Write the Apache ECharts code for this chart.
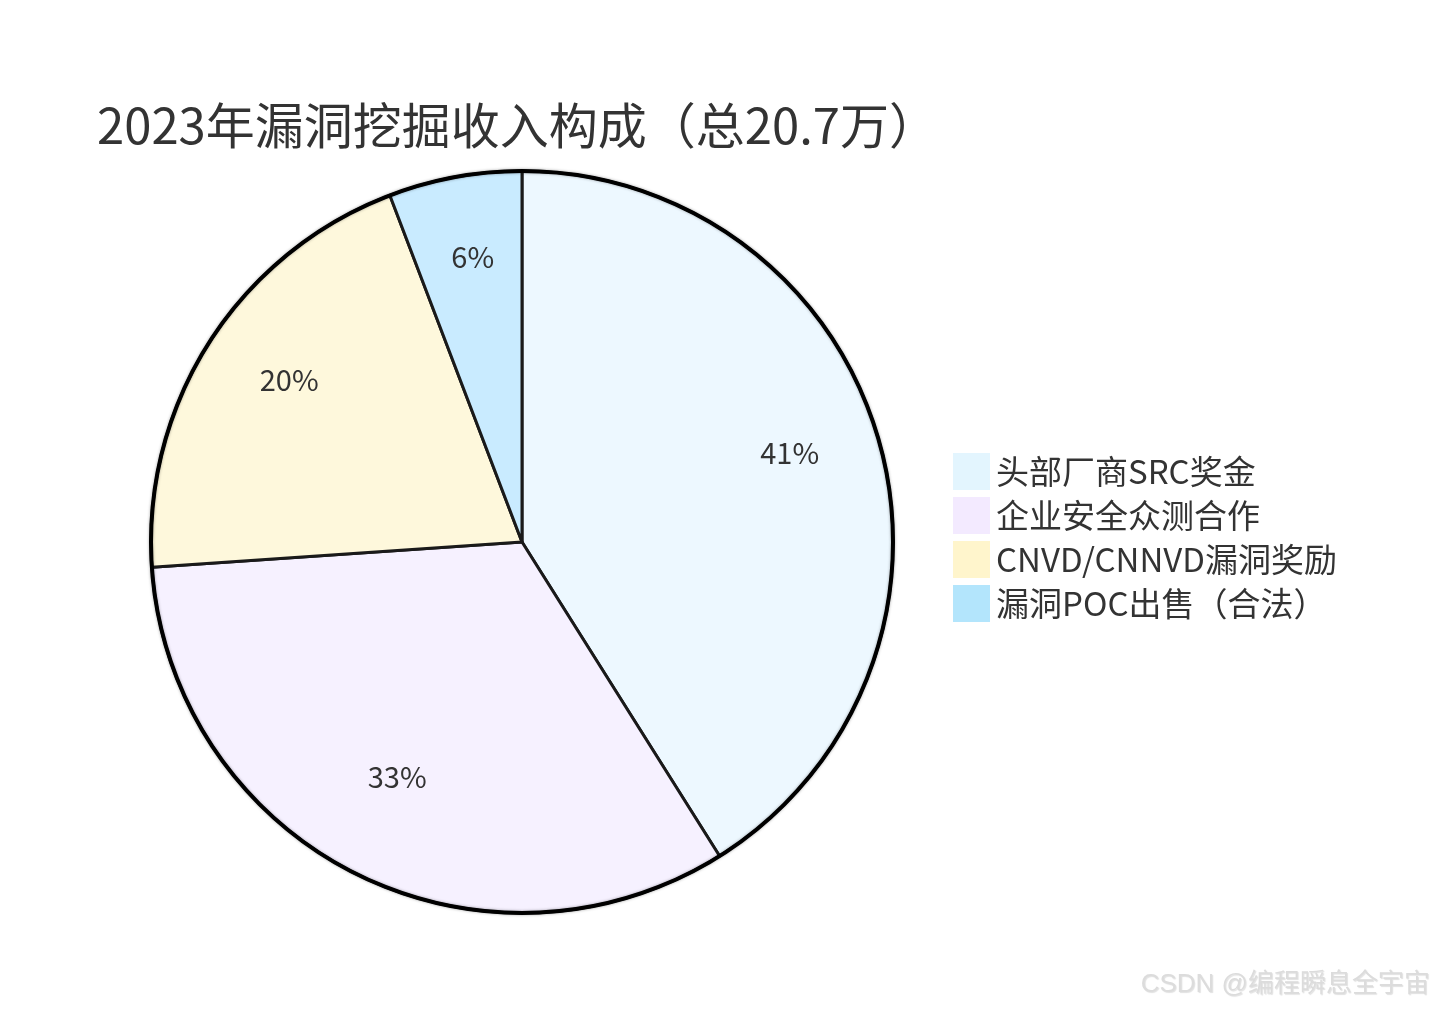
<!DOCTYPE html>
<html><head><meta charset="utf-8">
<script src="https://cdn.jsdelivr.net/npm/echarts@6/dist/echarts.min.js"></script>
<style>html,body{margin:0;padding:0;background:#fff}#c{width:1435px;height:1010px}</style>
</head><body><div id="c"></div>
<script>
const categories = ['头部厂商SRC奖金', '企业安全众测合作', 'CNVD/CNNVD漏洞奖励', '漏洞POC出售（合法）'];
const values = [8.5, 6.8, 4.2, 1.2];
const sliceColors = ['#EDF8FF', '#F6F1FF', '#FEF8DC', '#C9EBFF'];
const legendColors = ['#E3F5FE', '#F3EAFF', '#FFF5CC', '#B3E5FC'];
const titleText = '2023年漏洞挖掘收入构成（总20.7万）';
const watermark = 'CSDN @编程瞬息全宇宙';

const FONT = '"Noto Sans CJK SC", "Noto Sans", sans-serif';
const CX = 522, CY = 542, R = 371;
const data = categories.map((n, i) => ({ name: n, value: values[i], itemStyle: { color: sliceColors[i] } }));

const chart = echarts.init(document.getElementById('c'));
chart.setOption({
  animation: false,
  title: { text: titleText, left: 92, top: 96, textStyle: { fontFamily: FONT, fontSize: 49, fontWeight: 'normal', color: '#333' } },
  legend: {
    orient: 'vertical', left: 953, top: 453, padding: 0, itemWidth: 37, itemHeight: 37, itemGap: 7, icon: 'rect',
    itemStyle: { borderWidth: 0 },
    textStyle: { fontFamily: FONT, fontSize: 33, lineHeight: 37, color: '#333', padding: [0, 0, 0, 1] },
    data: categories.map((n, i) => ({ name: n, itemStyle: { color: legendColors[i], borderWidth: 0 } }))
  },
  graphic: [
    { type: 'circle', shape: { cx: CX, cy: CY, r: R }, z: 100, silent: true,
      style: { fill: 'none', stroke: '#000', lineWidth: 4, shadowBlur: 3, shadowColor: 'rgba(0,0,0,0.35)' } },
    { type: 'text', right: 5, bottom: 12, z: 100, silent: true,
      style: { text: watermark, fontFamily: '"Liberation Sans", "Noto Sans CJK SC", sans-serif', fontSize: 26, fill: '#dcdcdc',
        textShadowColor: 'rgba(0,0,0,0.12)', textShadowBlur: 1, textShadowOffsetX: 1, textShadowOffsetY: 1 } }
  ],
  series: [
    { type: 'pie', center: [CX, CY], radius: [0, R], startAngle: 90, clockwise: true, silent: true,
      label: { show: false }, labelLine: { show: false },
      itemStyle: { borderColor: '#1a1a1a', borderWidth: 3 }, data: data },
    { type: 'pie', center: [CX, CY], radius: [R / 2, R * 0.98], startAngle: 90, clockwise: true, silent: true,
      itemStyle: { color: 'rgba(0,0,0,0)', borderWidth: 0 }, labelLine: { show: false },
      label: { show: true, position: 'inside', fontFamily: FONT, fontSize: 29, color: '#333', offset: [1, -12],
        formatter: p => Math.round(p.percent) + '%' },
      data: categories.map((n, i) => ({ name: n, value: values[i] })) }
  ]
});
</script></body></html>
